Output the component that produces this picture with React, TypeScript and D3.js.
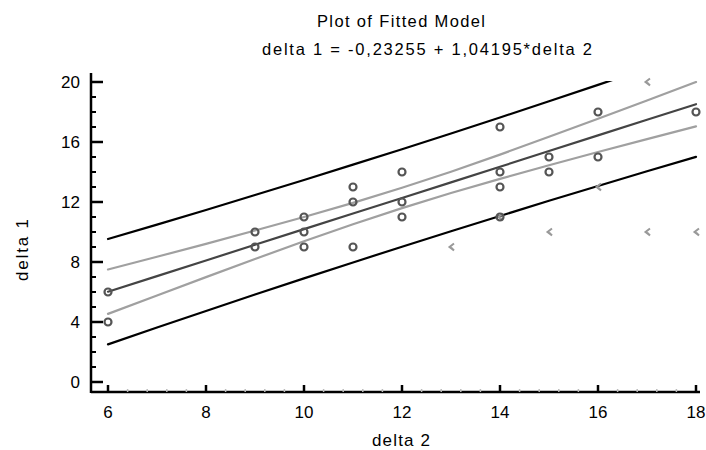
import React from "react";
import * as d3 from "d3";

const title = "Plot of Fitted Model";
const subtitle = "delta 1 = -0,23255 + 1,04195*delta 2";
const xLabel = "delta 2";
const yLabel = "delta 1";

const xTicks = [6, 8, 10, 12, 14, 16, 18];
const yTicks = [0, 4, 8, 12, 16, 20];

// grid of x values where the fitted curves were read
const gridX = [6, 7, 8, 9, 10, 11, 12, 13, 14, 15, 16, 17, 18];
const fitted = [6.02, 7.06, 8.1, 9.15, 10.19, 11.23, 12.27, 13.31, 14.35, 15.4, 16.44, 17.48, 18.52];
const upperPred = [9.53, 10.49, 11.47, 12.47, 13.47, 14.49, 15.52, 16.57, 17.63, 18.72, 19.81, 20.91, 22.03];
const lowerPred = [2.51, 3.63, 4.73, 5.83, 6.91, 7.97, 9.02, 10.05, 11.07, 12.08, 13.07, 14.05, 15.01];
const upperConf = [7.5, 8.35, 9.21, 10.1, 11.0, 11.94, 12.95, 14.02, 15.16, 16.35, 17.55, 18.77, 20.0];
const lowerConf = [4.54, 5.77, 6.99, 8.2, 9.38, 10.52, 11.59, 12.6, 13.54, 14.45, 15.33, 16.19, 17.04];

// observations
const obsX = [6, 6, 9, 9, 10, 10, 10, 11, 11, 11, 12, 12, 12, 14, 14, 14, 14, 15, 15, 16, 16, 18];
const obsY = [6, 4, 10, 9, 11, 10, 9, 13, 12, 9, 14, 12, 11, 17, 14, 13, 11, 15, 14, 18, 15, 18];
// excluded observations
const exX = [13, 14, 15, 16, 17, 17, 18];
const exY = [9, 11, 10, 13, 20, 10, 10];

const W = 706;
const H = 450;
const axisLeft = 91;
const axisBottom = 392;
const axisTop = 73;
const axisRight = 700;

const x = d3.scaleLinear().domain([6, 18]).range([108, 696]);
const y = d3.scaleLinear().domain([0, 20]).range([382, 82]);

const font = "'Liberation Sans', Arial, sans-serif";

export default function App() {
  const line = (vals: number[]) =>
    d3
      .line<number>()
      .x((_, i) => x(gridX[i]))
      .y((v) => y(v))(vals) || "";

  const yMinor = d3.range(0, 21, 1).filter((v) => v % 4 !== 0);
  const xMinor = d3.range(6, 18.01, 0.4).filter((v) => Math.abs(v / 2 - Math.round(v / 2)) > 0.01);

  return (
    <svg width={W} height={H} style={{ position: "absolute", left: 0, top: 0, background: "#fff" }}>
      <defs>
        <clipPath id="plotClip">
          <rect x={axisLeft} y={y(20.07)} width={axisRight - axisLeft + 10} height={axisBottom - y(20.07)} />
        </clipPath>
      </defs>
      <text x={317} y={27} fontFamily={font} fontSize={16.5} textLength={168} lengthAdjust="spacing" fill="#000">
        {title}
      </text>
      <text x={262} y={55} fontFamily={font} fontSize={16.5} textLength={330} lengthAdjust="spacing" fill="#000">
        {subtitle}
      </text>

      {/* axes */}
      <line x1={axisLeft} x2={axisLeft} y1={axisTop} y2={axisBottom + 1} stroke="#000" strokeWidth={2.5} />
      <line x1={axisLeft} x2={axisRight} y1={axisBottom} y2={axisBottom} stroke="#000" strokeWidth={2.5} />
      {yTicks.map((t) => (
        <g key={"yt" + t}>
          <line x1={axisLeft} x2={axisLeft + 12} y1={y(t)} y2={y(t)} stroke="#000" strokeWidth={2.5} />
          <text x={80} y={y(t) + 6} textAnchor="end" fontFamily={font} fontSize={17} fill="#000">
            {t}
          </text>
        </g>
      ))}
      {yMinor.map((t) => (
        <line key={"ym" + t} x1={axisLeft} x2={axisLeft + 5} y1={y(t)} y2={y(t)} stroke="#000" strokeWidth={2} />
      ))}
      {xTicks.map((t) => (
        <g key={"xt" + t}>
          <line x1={x(t)} x2={x(t)} y1={axisBottom} y2={axisBottom - 7} stroke="#000" strokeWidth={2.5} />
          <text x={x(t)} y={418} textAnchor="middle" fontFamily={font} fontSize={17} fill="#000">
            {t}
          </text>
        </g>
      ))}
      {xMinor.map((t, i) => (
        <line key={"xm" + i} x1={x(t)} x2={x(t)} y1={axisBottom} y2={axisBottom - 3} stroke="#bbb" strokeWidth={1.5} />
      ))}

      <text x={401} y={446} textAnchor="middle" fontFamily={font} fontSize={17} textLength={58} lengthAdjust="spacing" fill="#000">
        {xLabel}
      </text>
      <text
        transform={`translate(28,250) rotate(-90)`}
        textAnchor="middle"
        fontFamily={font}
        fontSize={17}
        textLength={62}
        lengthAdjust="spacing"
        fill="#000"
      >
        {yLabel}
      </text>

      {/* curves */}
      <g clipPath="url(#plotClip)" fill="none" strokeLinejoin="round" strokeLinecap="round">
        <path d={line(upperPred)} stroke="#000" strokeWidth={2.2} />
        <path d={line(lowerPred)} stroke="#000" strokeWidth={2.2} />
        <path d={line(upperConf)} stroke="#a0a0a0" strokeWidth={2.2} />
        <path d={line(lowerConf)} stroke="#a0a0a0" strokeWidth={2.2} />
        <path d={line(fitted)} stroke="#444" strokeWidth={2.2} />
      </g>

      {/* excluded points */}
      {exX.map((vx, i) => (
        <path
          key={"ex" + i}
          transform={`translate(${x(vx)},${y(exY[i])})`}
          d="M3,-3.5 L-1.5,0 L3,3.5 M0,0.5 L3,3.5"
          fill="none"
          stroke="#999"
          strokeWidth={2}
        />
      ))}
      {/* observations */}
      {obsX.map((vx, i) => (
        <circle key={"o" + i} cx={x(vx)} cy={y(obsY[i])} r={3.5} fill="none" stroke="#555" strokeWidth={2.2} />
      ))}
    </svg>
  );
}
